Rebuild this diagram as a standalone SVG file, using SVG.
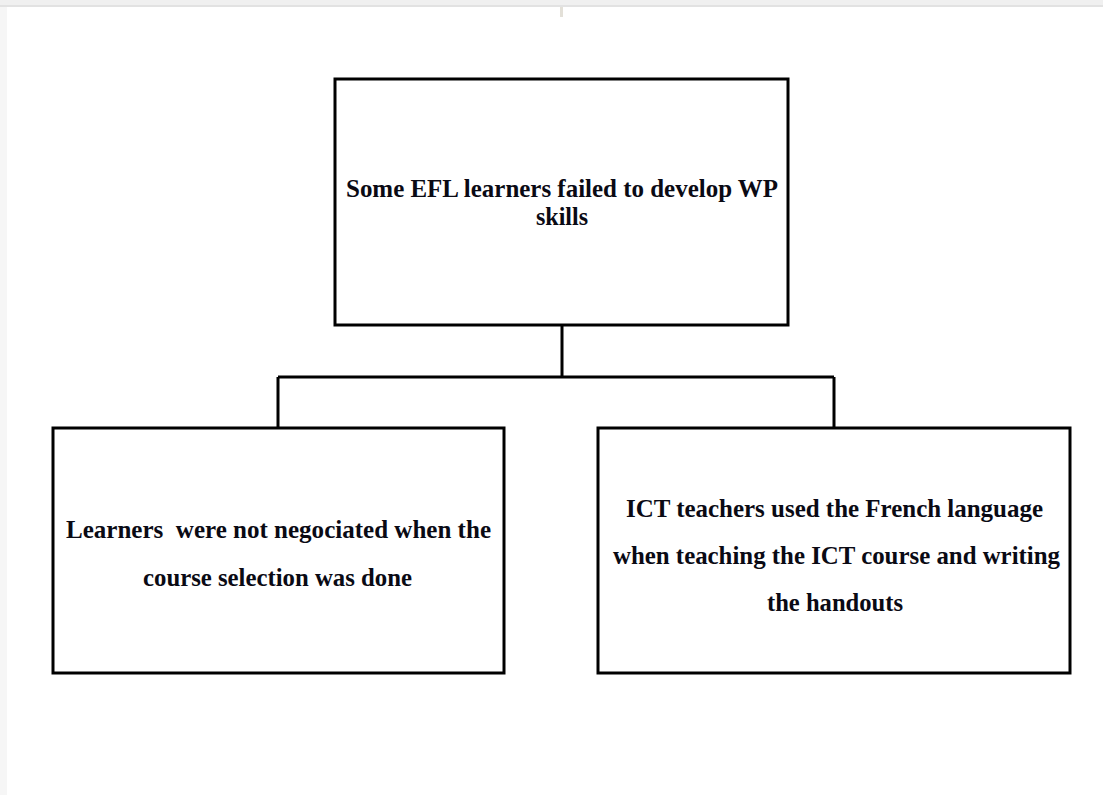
<svg xmlns="http://www.w3.org/2000/svg" width="1103" height="795" viewBox="0 0 1103 795">
<style>
.box{fill:#fff;stroke:#000;stroke-width:3}
.conn{fill:none;stroke:#000;stroke-width:3}
.t{font-family:"Liberation Serif","Times New Roman",serif;font-weight:bold;font-size:26px;fill:#0a0a14;white-space:pre}
</style>
<rect x="0" y="0" width="1103" height="795" fill="#fff"/>
<rect x="0" y="0" width="1103" height="5" fill="#f0f0f0"/>
<rect x="0" y="5" width="1103" height="2" fill="#e2e2e2"/>
<rect x="0" y="7" width="7" height="788" fill="#f6f6f6"/>
<rect x="560" y="7" width="3" height="10" fill="#e3e0d8"/>
<g id="connectors">
<path class="conn" d="M562 326 V377 M278 377 H834 M278 377 V428 M834 377 V428"/>
</g>
<g id="node-top">
<rect class="box" x="335" y="79" width="453" height="246"/>
<text class="t" x="562" y="197" text-anchor="middle" textLength="432" lengthAdjust="spacingAndGlyphs">Some EFL learners failed to develop WP</text>
<text class="t" x="562" y="225" text-anchor="middle" textLength="52" lengthAdjust="spacingAndGlyphs">skills</text>
</g>
<g id="node-left">
<rect class="box" x="53" y="428" width="451" height="245"/>
<text class="t" x="278.5" y="538" text-anchor="middle" textLength="425" lengthAdjust="spacingAndGlyphs" xml:space="preserve">Learners  were not negociated when the</text>
<text class="t" x="277.5" y="586" text-anchor="middle" textLength="269" lengthAdjust="spacingAndGlyphs">course selection was done</text>
</g>
<g id="node-right">
<rect class="box" x="598" y="428" width="472" height="245"/>
<text class="t" x="834.5" y="517" text-anchor="middle" textLength="417" lengthAdjust="spacingAndGlyphs">ICT teachers used the French language</text>
<text class="t" x="836.5" y="564" text-anchor="middle" textLength="447" lengthAdjust="spacingAndGlyphs">when teaching the ICT course and writing</text>
<text class="t" x="835" y="611" text-anchor="middle" textLength="136" lengthAdjust="spacingAndGlyphs">the handouts</text>
</g>
</svg>
